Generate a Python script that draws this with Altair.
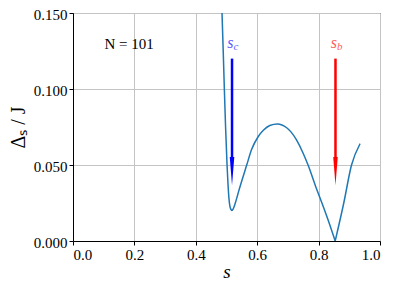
import altair as alt
import pandas as pd

# Curve values
s_vals = [0.4854, 0.4893, 0.4930, 0.4970, 0.5018, 0.5050, 0.5080, 0.5110, 0.5145, 0.5180,
          0.5220, 0.5287, 0.5400, 0.5656, 0.5820, 0.6030, 0.6200, 0.6410, 0.6660, 0.6960,
          0.7100, 0.7280, 0.7500, 0.7660, 0.7910, 0.8115, 0.8310, 0.8540,
          0.8820, 0.9070, 0.9350]
delta_vals = [0.1500, 0.1250, 0.1000, 0.0750, 0.0500, 0.0370, 0.0280, 0.0230, 0.0208, 0.0200,
              0.0212, 0.0250, 0.0330, 0.0498, 0.0603, 0.0686, 0.0728, 0.0760, 0.0770, 0.0745,
              0.0718, 0.0665, 0.0576, 0.0498, 0.0356, 0.0247, 0.0138, 0.0000,
              0.0250, 0.0498, 0.0640]
# cusp of the curve at s_b (where the line has a sharp corner)
cusp_s = 0.8540

# Arrows
arrow_s = [0.518, 0.855]
arrow_top = [0.120, 0.120]
arrow_shaft_end = [0.0552, 0.0552]
arrow_head_mid = [0.0460, 0.0460]
arrow_color = ["#0000ff", "#ff0000"]
label_sub = ["c", "b"]
label_y = [0.1273, 0.1273]

note_s = [0.183]
note_y = [0.1297]
note_text = ["N = 101"]

FONT = "Liberation Serif"

rows = []
for s, d in zip(s_vals, delta_vals):
    if s <= cusp_s:
        rows.append({"s": s, "d": d, "seg": "a"})
    if s >= cusp_s:
        rows.append({"s": s, "d": d, "seg": "b"})
curve = pd.DataFrame(rows)
arrows = pd.DataFrame({"s": arrow_s, "top": arrow_top, "end": arrow_shaft_end,
                       "mid": arrow_head_mid, "color": arrow_color,
                       "sub": label_sub, "ly": label_y})
note = pd.DataFrame({"s": note_s, "y": note_y, "t": note_text})

xsc = alt.Scale(domain=[0, 1], nice=False)
ysc = alt.Scale(domain=[0, 0.15], nice=False)

xax = alt.Axis(values=[0, 0.2, 0.4, 0.6, 0.8, 1.0], format=".1f", title="s",
               titleFontStyle="italic", titleFontSize=19, titleFontWeight="normal",
               titlePadding=0)
yax = alt.Axis(values=[0, 0.025, 0.05, 0.075, 0.1, 0.125, 0.15], format=".3f",
               title="Δₛ / J", titleFontSize=20, titleFontWeight="normal", titlePadding=5,
               labelOffset=1.5)

line = alt.Chart(curve).mark_line(color="#1f77b4", strokeWidth=1.5, clip=True,
                                  interpolate="monotone").encode(
    x=alt.X("s:Q", scale=xsc, axis=xax),
    y=alt.Y("d:Q", scale=ysc, axis=yax),
    detail="seg:N",
    order="s:Q",
)

shaft = alt.Chart(arrows).mark_rule(strokeWidth=2.5).encode(
    x="s:Q", y="top:Q", y2="end:Q",
    color=alt.Color("color:N", scale=None),
)

head = alt.Chart(arrows).mark_point(
    shape="M-0.16,-1L0.16,-1L0,1Z", size=800, filled=True, opacity=1
).encode(
    x="s:Q", y="mid:Q", color=alt.Color("color:N", scale=None),
)

lab_s = alt.Chart(arrows).mark_text(
    text="s", font=FONT, fontSize=16, fontStyle="italic", align="right",
    baseline="alphabetic", dx=1.5, opacity=0.65
).encode(x="s:Q", y="ly:Q", color=alt.Color("color:N", scale=None))

lab_sub = alt.Chart(arrows).mark_text(
    font=FONT, fontSize=11, fontStyle="italic", align="left",
    baseline="alphabetic", dx=1.5, dy=2, opacity=0.65
).encode(x="s:Q", y="ly:Q", text="sub:N", color=alt.Color("color:N", scale=None))

txt = alt.Chart(note).mark_text(font=FONT, fontSize=15, color="black").encode(
    x="s:Q", y="y:Q", text="t:N"
)

chart = alt.layer(line, shaft, head, lab_s, lab_sub, txt).properties(
    width=307, height=228,
    autosize=alt.AutoSizeParams(type="none"),
    padding={"left": 65, "top": 5, "right": 9, "bottom": 40},
).configure_view(stroke="black", strokeWidth=1).configure_axis(
    labelFont=FONT, titleFont=FONT, labelFontSize=15, labelColor="black",
    titleColor="black", domainColor="black", tickColor="black", tickSize=4,
    gridColor="#c4c4c4", gridWidth=1, labelPadding=2,
)

chart.save("out.html", embed_options={"renderer": "svg", "actions": False})
